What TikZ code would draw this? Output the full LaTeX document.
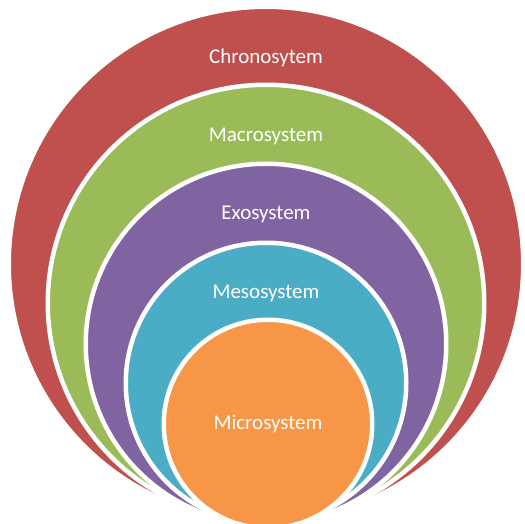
\documentclass[tikz,border=0pt]{standalone}
\usepackage{fontspec}
\setmainfont{Carlito}
\definecolor{chrono}{HTML}{C0504D}
\definecolor{macro}{HTML}{9BBB59}
\definecolor{exo}{HTML}{8064A2}
\definecolor{meso}{HTML}{4BACC6}
\definecolor{micro}{HTML}{F79646}
\tikzset{
  ring/.style={draw=white, line width=4.5pt},
  lbl/.style={text=white, font=\fontsize{21}{25}\selectfont, inner sep=0pt, anchor=center}
}
\begin{document}
\begin{tikzpicture}[x=1pt,y=-1pt]
\useasboundingbox (0,0) rectangle (525,524);
\begin{scope}
\clip (0,0) rectangle (525,524);
\filldraw[ring, fill=chrono] (266,264) circle (257.25pt);
\filldraw[ring, fill=macro] (266,303) circle (218.25pt);
\filldraw[ring, fill=exo] (266,344) circle (180.25pt);
\filldraw[ring, fill=meso] (266,383) circle (140.25pt);
\filldraw[ring, fill=micro] (268,424) circle (104.25pt);
\end{scope}
\node[lbl] (chronosystem) at (266,58) {Chronosytem};
\node[lbl] (macrosystem) at (266,136) {Macrosystem};
\node[lbl] (exosystem) at (266,214) {Exosystem};
\node[lbl] (mesosystem) at (266,293) {Mesosystem};
\node[lbl] (microsystem) at (268,424) {Microsystem};
\end{tikzpicture}
\end{document}
